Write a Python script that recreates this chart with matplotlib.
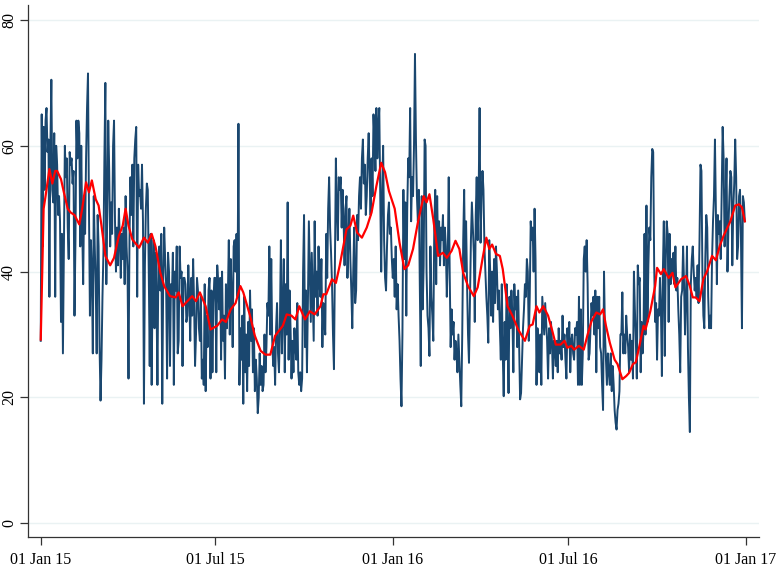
import matplotlib
matplotlib.use("Agg")
import matplotlib.pyplot as plt
import matplotlib.dates as mdates
import pandas as pd

START = "2015-01-01"

# daily series (one value per day)
daily_2015 = [
    29, 65, 44, 63, 53, 64, 66, 59, 61, 36, 60, 70.5, 53, 51, 62, 36, 60, 57, 49, 52,
    48, 32, 46, 27, 44, 60, 55, 58, 47, 42, 59, 57, 58, 54, 56, 33, 45, 64, 58, 64,
    62, 44, 60, 47, 38, 52, 46, 58, 66, 71.5, 50, 33, 45, 40, 27, 52, 44, 38, 27, 49,
    44, 28, 19.5, 26, 36, 43, 58, 70, 38, 50, 64, 56, 44, 51, 46, 60, 64, 48, 40, 47,
    41, 50, 45, 39, 46,
    42, 47, 38, 52, 44, 40, 23, 45, 55, 49,
    57, 44, 58, 61, 63, 36, 57, 52, 53, 50,
    57, 48, 19, 41, 50, 54, 53, 40, 25, 46,
    22, 39, 45, 31, 43, 36, 22, 42, 44, 37,
    46, 19, 39, 47, 42, 38, 23, 43, 40, 25,
    38, 36, 43, 22, 40, 37, 44, 27, 29, 44,
    39, 40, 25, 39, 39, 38, 32, 33, 41, 36,
    29, 39, 33, 42, 35, 25, 30, 39, 37, 31,
    29, 36, 23, 26, 22, 38, 21, 33, 28, 37,
    39, 23, 37, 24, 35, 39,
    39, 24, 41, 38, 34, 39, 26, 40, 29, 33,
    23, 38, 31, 36, 45, 30, 42, 36, 28, 44,
    45, 40, 46, 36, 63.5,
    22, 31, 26, 33, 19, 36, 24, 30, 21, 32,
    25, 37, 29, 34, 24, 31, 21, 26, 23, 17.5,
    20, 27, 22, 25, 21, 22, 30, 24, 28, 35,
    33, 44, 30, 42, 29, 25, 28, 22, 31, 35,
    27, 24, 32, 45, 27, 34, 42, 24, 38, 30,
    51, 26, 37, 31, 23, 29, 24, 31,
    28, 26, 35, 24, 22, 24, 21, 23, 40, 49, 28, 37, 24, 35, 48, 40, 32, 43, 36, 29,
    48, 36, 40, 33, 44, 38, 36, 42, 28, 35,
    32, 30, 46, 39, 50, 55, 47, 43, 38, 30,
    24.5, 42, 58, 50, 45, 55, 53, 55, 47, 53,
    48, 41, 50, 52, 39, 45, 50, 42, 37, 31,
    40, 47, 35, 37, 49, 45, 52, 55, 50, 58,
    61, 54, 57, 49, 52, 58, 62, 55, 49, 58,
    52, 65, 61, 56, 66, 58, 63, 66, 52, 40,
    53, 60, 45, 39, 37, 44, 49, 51, 46, 47,
    42,
]

daily_2016 = [
    39,
    42, 36, 44, 34, 38, 33, 29, 23, 18.6, 30,
    53, 42, 51, 33, 50, 58, 55, 66, 48, 55,
    52, 60, 74.6, 61, 52, 48, 53, 38, 25, 52,
    34, 41, 61, 60, 40, 33, 31, 26.6, 44, 36,
    33, 29, 47, 53, 38, 52, 43, 48, 41, 47,
    45, 49, 41, 47, 44, 36, 42, 55, 40, 28,
    34, 30, 32, 26, 29, 27, 24, 30, 26, 22,
    18.6, 30, 45, 53, 40, 48, 38, 30, 25.5, 35,
    45, 51, 47, 43, 32, 49, 55,
    45, 52, 66, 44.6, 52, 56, 53, 44, 40, 36,
    33, 28.7, 45, 40, 33, 40, 32, 42, 35, 44,
    40, 34, 37, 31, 26, 38, 27, 20.2, 32, 26,
    38, 31, 20.7, 36, 31, 37, 33, 24, 38, 34,
    36, 28, 37, 28, 19.7, 20.7, 26, 31, 34, 38,
    36, 42, 40, 29, 36, 48, 45, 47, 40, 50,
    42, 22, 31, 29, 24, 30, 22, 36, 33, 30,
    35, 32, 29, 23, 31, 27, 32, 29, 23, 29,
    28, 25, 29, 24, 31, 27, 29, 26, 33, 28,
    30, 26, 23, 31, 28, 32, 24, 29, 30, 27,
    26, 31, 30, 32, 22, 36, 22, 34, 22, 27,
    42, 44, 40, 45, 38, 26, 27, 31, 35, 33,
    36, 30, 37, 24, 36, 31, 36, 28, 27, 22,
    18, 40, 30, 26, 22, 27, 24, 22, 27, 21,
    25, 22, 18, 16, 14.9, 18, 19, 21, 30, 30,
    36.7,
    27, 30, 27, 33, 30, 28, 24, 30, 26, 29,
    23, 40, 34, 29, 23, 41, 38, 39, 24, 32,
    27, 31, 46, 30, 50.5, 32, 41, 47, 45, 55,
    59.5, 59, 41, 32, 35, 26, 34, 33, 39, 34,
    23.4, 40, 48, 26.6, 42, 48, 46, 32, 46, 38,
    42, 40, 43, 38, 44, 37, 39, 34, 30, 24,
    36, 37, 44, 38, 30, 36, 44, 28, 20, 14.5,
    38, 42, 44, 40, 37, 39, 36, 41, 35, 45,
    57, 56, 40, 33, 31, 42, 49, 47, 36, 31,
    33, 31, 42, 48, 52, 61, 50, 38, 49, 46,
    48, 42, 52, 63, 58, 44, 50, 58, 40, 47,
    52, 56, 55, 41, 50, 54, 61, 55, 42, 44,
    52, 53, 45, 31, 52, 51, 48,
]

# moving average (red), read at these day offsets from 01 Jan 15
ma_days = [
    0, 3, 5, 9, 12, 15, 17, 21, 24, 28, 31, 35, 40, 43, 47, 50, 53, 57, 60, 63,
    67, 72, 76, 81, 85, 88, 91, 95, 102, 107, 111, 115, 119, 124, 128, 134, 140, 143, 147, 152,
    157, 161, 165, 171, 176, 183, 188, 192, 197, 202, 207, 210, 217, 222, 228, 233, 238, 243, 248, 251,
    255, 260, 264, 268, 274, 279, 284, 290, 293, 296, 302, 306, 310, 317, 321, 324, 328, 333, 338, 343,
    348, 353, 357, 361, 367, 372, 377, 381, 386, 391, 397, 400, 403, 407, 412, 417, 421, 426, 430, 434,
    438, 443, 449, 453, 458, 462, 465, 468, 472, 476, 479, 484, 489, 495, 502, 507, 510, 514, 517, 521,
    526, 530, 534, 539, 543, 546, 550, 553, 558, 563, 567, 571, 576, 580, 583, 586, 590, 595, 598, 603,
    607, 610, 614, 617, 621, 625, 627, 632, 637, 639, 643, 646, 651, 655, 658, 664, 669, 673, 676, 679,
    683, 687, 691, 696, 700, 704, 708, 712, 715, 720, 724, 727, 730,
]
ma_values = [
    29.2, 50, 52, 56.3, 54, 56, 56, 54.7, 52.6, 50, 49.4, 49, 47.5, 50, 54.2, 52.6, 54.5, 51.5, 50.5, 47.3,
    42.5, 41, 42.2, 45.7, 47.3, 50, 47.3, 45.1, 43.8, 45.4, 44.6, 46, 44, 39.8, 37.7, 36.1, 35.9, 36.7, 34.5, 35.3,
    36.1, 35.3, 36.7, 34.5, 30.8, 31.4, 32.4, 32, 34, 35, 37.7, 36.7, 33, 29.8, 27.4, 26.8, 26.8, 29.8, 30.8, 31.4,
    33.2, 33, 32.4, 34.5, 32.4, 33.7, 33.2, 34.5, 36.4, 36.4, 38.8, 38.2, 41, 46.7, 47.3, 48.9, 46.2, 45.4, 47, 49.4,
    53.6, 57.3, 55.8, 52.8, 50, 44.6, 40.4, 41, 43.6, 47.8, 52, 51, 52.3, 48.3, 42.5, 43, 42.2, 43.3, 44.9, 43.6,
    39.8, 37.7, 36.1, 37.5, 42, 45.4, 43.6, 44.3, 42.8, 42.5, 40.4, 34.5, 33, 30.8, 29, 31.4, 31.6, 34.5, 33.5, 34.5,
    33, 30.8, 28.4, 28.4, 29, 27.9, 28.2, 27.6, 28.2, 27.6, 30, 32.1, 33.5, 33.2, 34, 31.4, 28.7, 26, 25.3, 22.9,
    23.4, 23.9, 25.3, 25.6, 28.4, 31.4, 30.8, 33.7, 37.7, 40.6, 39.6, 40.4, 39, 39.8, 37.5, 38.8, 39.3, 37.7, 35.9, 35.9,
    35.3, 38.8, 40.1, 42.5, 41.8, 44.1, 45.7, 47, 48, 50.5, 50.7, 50.2, 48,
]

tick_dates = ["2015-01-01", "2015-07-01", "2016-01-01", "2016-07-01", "2017-01-01"]
y_ticks = [0, 20, 40, 60, 80]

values = daily_2015 + daily_2016
dates = pd.date_range(START, periods=len(values), freq="D")
ma_dates = pd.Timestamp(START) + pd.to_timedelta(ma_days, unit="D")

plt.rcParams["font.family"] = ["Liberation Serif", "DejaVu Serif"]

fig = plt.figure(figsize=(7.8, 5.8), dpi=100)
ax = fig.add_axes([0.0359, 0.0747, 0.9372, 0.9167])

ax.plot(dates, values, color="#1a476f", lw=1.4)
ax.plot(ma_dates, ma_values, color="#ff0000", lw=1.6)

ax.set_ylim(-2.13, 82.38)
ax.set_xlim(pd.Timestamp(START) - pd.Timedelta(days=13.2),
            pd.Timestamp(START) + pd.Timedelta(days=744.7))
ax.set_yticks(y_ticks)
ax.set_xticks(pd.to_datetime(tick_dates))
ax.xaxis.set_major_formatter(mdates.DateFormatter("%d %b %y"))

ax.grid(axis="y", color="#eaf2f3", lw=1.0)
ax.set_axisbelow(True)
for side in ["top", "right"]:
    ax.spines[side].set_visible(False)
for side in ["left", "bottom"]:
    ax.spines[side].set_color("#333333")
    ax.spines[side].set_linewidth(0.9)

ax.tick_params(labelsize=11.5, length=6, width=0.9, color="#333333")
ax.tick_params(axis="x", pad=5)
ax.tick_params(axis="y", pad=2)
for lbl in ax.get_yticklabels():
    lbl.set_rotation(90)
    lbl.set_va("center")

fig.savefig("out.png", dpi=100)
